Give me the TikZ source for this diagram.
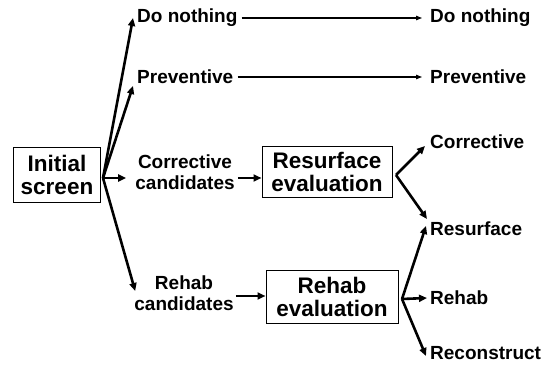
\documentclass[tikz,border=0pt]{standalone}
\usepackage{fontspec}
\setmainfont{Liberation Sans}
\usetikzlibrary{arrows.meta}
\begin{document}
\begin{tikzpicture}[x=1pt,y=-1pt,
 box/.style={draw,line width=1pt,align=center,font=\bfseries\fontsize{22.5}{23.5}\selectfont,inner sep=0pt},
 lbl/.style={font=\bfseries\fontsize{19}{21}\selectfont,inner sep=0pt,align=center},
 bigarrow/.style={line width=2.6pt,-{Triangle[length=8pt,width=7pt]}},
 thinarrow/.style={line width=1.1pt,-{Triangle[length=6pt,width=4.5pt]}}]
\useasboundingbox (0,0) rectangle (549,366);
% boxes
\node[box,minimum width=87pt,minimum height=55pt] (init) at (57,175) {Initial\\screen};
\node[box,minimum width=130pt,minimum height=51pt] (rs) at (327,172) {Resurface\\evaluation};
\node[box,minimum width=132pt,minimum height=52pt] (rh) at (332,297) {Rehab\\evaluation};
% labels
\node[lbl,anchor=west] (dn1) at (137,18) {Do nothing};
\node[lbl,anchor=west] (dn2) at (430,18) {Do nothing};
\node[lbl,anchor=west] (pv1) at (137,77) {Preventive};
\node[lbl,anchor=west] (pv2) at (430,77) {Preventive};
\node[lbl] (cc) at (185,172) {Corrective\\candidates};
\node[lbl] (rc) at (184,293) {Rehab\\candidates};
\node[lbl,anchor=west] (cor) at (430,142) {Corrective};
\node[lbl,anchor=west] (res) at (430,229) {Resurface};
\node[lbl,anchor=west] (reh) at (430,298) {Rehab};
\node[lbl,anchor=west] (rec) at (430,353) {Reconstruct};
% junction points
\coordinate (iv) at (103,178);
\coordinate (rsv) at (396,175);
\coordinate (rhv) at (402,299);
% connectors
\draw[bigarrow] (iv) -- ([xshift=-4pt]dn1.west);
\draw[bigarrow] (iv) -- ([shift={(-4pt,-9pt)}]pv1.west);
\draw[bigarrow] (iv) -- ([xshift=-9pt,yshift=-6pt]cc.west);
\draw[bigarrow] (iv) -- ([shift={(1pt,2pt)}]rc.west);
\draw[bigarrow] ([xshift=3pt,yshift=-6pt]cc.east) -- ([yshift=-6pt]rs.west);
\draw[bigarrow] ([xshift=2pt,yshift=-3pt]rc.east) -- ([yshift=1pt]rh.west);
\draw[thinarrow,shorten <=4pt,shorten >=8pt] (dn1.east) -- (dn2.west);
\draw[thinarrow,shorten <=4pt,shorten >=8pt] (pv1.east) -- (pv2.west);
\draw[bigarrow] (rsv) -- ([shift={(-5pt,-4pt)}]cor.west);
\draw[bigarrow] (rsv) -- ([shift={(-3pt,10pt)}]res.west);
\draw[bigarrow] (rhv) -- ([shift={(-4pt,3pt)}]res.west);
\draw[bigarrow] (rhv) -- ([xshift=-3pt]reh.west);
\draw[bigarrow] (rhv) -- ([shift={(-4pt,-3pt)}]rec.west);
\end{tikzpicture}
\end{document}
